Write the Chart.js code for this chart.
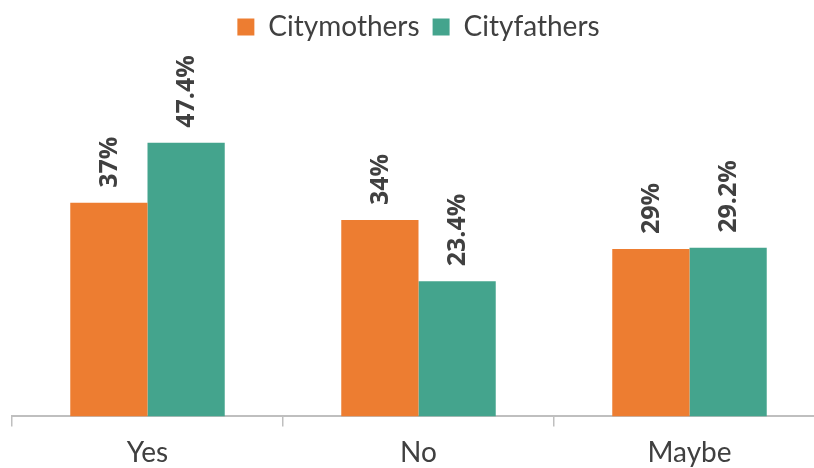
<!DOCTYPE html>
<html>
<head>
<meta charset="utf-8">
<script src="https://cdn.jsdelivr.net/npm/chart.js@4"></script>
<style>
  html, body { margin: 0; padding: 0; background: #fff; overflow: hidden; }
  #wrap { position: relative; width: 840px; height: 480px; }
</style>
</head>
<body>
<div id="wrap"><canvas id="answerChart"></canvas></div>
<script>
// survey answers
const categories = ["Yes", "No", "Maybe"];
const citymothers = [37, 34, 29];
const cityfathers = [47.4, 23.4, 29.2];
const valueLabels = {
  Citymothers: ["37%", "34%", "29%"],
  Cityfathers: ["47.4%", "23.4%", "29.2%"]
};

const ORANGE = "#ED7D31";
const TEAL = "#44A48D";
const TEXT = "#404040";

// draws the rotated value labels above each bar
const barLabels = {
  id: "barLabels",
  afterDatasetsDraw(chart) {
    const ctx = chart.ctx;
    ctx.save();
    ctx.font = "bold 25px 'Open Sans'";
    ctx.fillStyle = TEXT;
    ctx.textAlign = "left";
    ctx.textBaseline = "middle";
    chart.data.datasets.forEach((ds, i) => {
      const meta = chart.getDatasetMeta(i);
      meta.data.forEach((bar, j) => {
        ctx.save();
        ctx.translate(bar.x + 1, bar.y - 15);
        ctx.rotate(-Math.PI / 2);
        ctx.fillText(valueLabels[ds.label][j], 0, 0);
        ctx.restore();
      });
    });
    ctx.restore();
  }
};

// extra room under the legend
const legendGap = {
  id: "legendGap",
  beforeInit(chart) {
    const fit = chart.legend.fit;
    chart.legend.fit = function () {
      fit.bind(chart.legend)();
      this.height += 19;
    };
  }
};

new Chart(document.getElementById("answerChart"), {
  type: "bar",
  data: {
    labels: categories,
    datasets: [
      { label: "Citymothers", data: citymothers, backgroundColor: ORANGE },
      { label: "Cityfathers", data: cityfathers, backgroundColor: TEAL }
    ]
  },
  options: {
    responsive: true,
    maintainAspectRatio: false,
    animation: false,
    datasets: {
      bar: { categoryPercentage: 0.57, barPercentage: 1.0 }
    },
    layout: { padding: { left: 12, right: 15, top: 0, bottom: 0 } },
    plugins: {
      legend: {
        position: "top",
        labels: {
          font: { family: "Lato", size: 28 },
          color: TEXT,
          boxWidth: 17,
          boxHeight: 17,
          padding: 13
        }
      },
      tooltip: { enabled: false }
    },
    scales: {
      x: {
        grid: {
          offset: true,
          drawOnChartArea: false,
          tickLength: 10,
          tickColor: "#BFBFBF",
          lineWidth: 1.5
        },
        border: { color: "#BFBFBF", width: 2 },
        ticks: {
          font: { family: "Lato", size: 28 },
          color: TEXT,
          padding: 10
        }
      },
      y: {
        display: false,
        min: 0,
        max: 60
      }
    }
  },
  plugins: [barLabels, legendGap]
});
</script>
</body>
</html>
